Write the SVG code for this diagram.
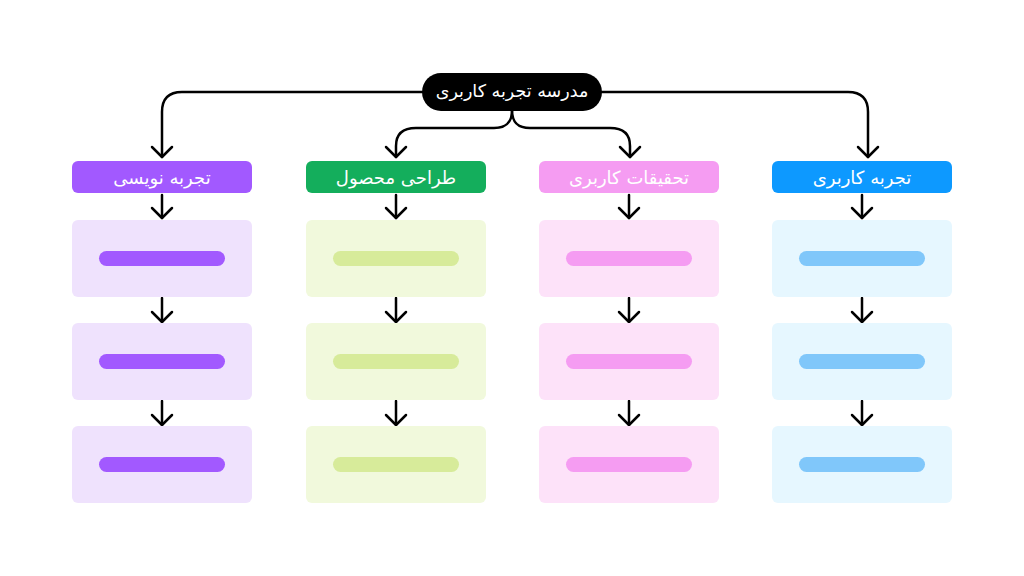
<svg xmlns="http://www.w3.org/2000/svg" width="1024" height="576" viewBox="0 0 1024 576">
<style>
.conn{fill:none;stroke:#000;stroke-width:2.5;stroke-linecap:round;stroke-linejoin:round}
.lbl{font-family:"DejaVu Sans","Noto Sans",sans-serif;fill:#fff;text-anchor:middle;dominant-baseline:central}
.hdr{font-size:18px}
.root{font-size:17.5px}
.pH{fill:#A259FF}.pB{fill:#EFE2FD}.pL{fill:#A259FF}
.gH{fill:#14AE5C}.gB{fill:#F1F9DC}.gL{fill:#D7EB9A}
.kH{fill:#F59CF2}.kB{fill:#FDE2F9}.kL{fill:#F59CF2}
.bH{fill:#0D99FF}.bB{fill:#E6F7FF}.bL{fill:#80C7FA}
</style>
<defs>
<marker id="ah" viewBox="-13 -13 16 26" markerWidth="16" markerHeight="26" refX="0" refY="0" orient="auto" markerUnits="userSpaceOnUse">
<path d="M-10,-10 L0,0 L-10,10" fill="none" stroke="#000" stroke-width="2.5" stroke-linecap="round" stroke-linejoin="round"/>
</marker>
</defs>
<rect width="1024" height="576" fill="#fff"/>
<g id="connectors">
<path class="conn" marker-end="url(#ah)" d="M422,92 L182,92 Q162,92 162,112 L162,157"/>
<path class="conn" marker-end="url(#ah)" d="M602,92 L848,92 Q868,92 868,112 L868,157"/>
<path class="conn" marker-end="url(#ah)" d="M512,110 C512,124 505,128 494,128 L416,128 Q396,128 396,146 L396,157"/>
<path class="conn" marker-end="url(#ah)" d="M512,110 C512,124 519,128 530,128 L610,128 Q630,128 630,146 L630,157"/>
<path class="conn" marker-end="url(#ah)" d="M162,195 V218"/>
<path class="conn" marker-end="url(#ah)" d="M162,298 V322"/>
<path class="conn" marker-end="url(#ah)" d="M162,401 V425"/>
<path class="conn" marker-end="url(#ah)" d="M396,195 V218"/>
<path class="conn" marker-end="url(#ah)" d="M396,298 V322"/>
<path class="conn" marker-end="url(#ah)" d="M396,401 V425"/>
<path class="conn" marker-end="url(#ah)" d="M629,195 V218"/>
<path class="conn" marker-end="url(#ah)" d="M629,298 V322"/>
<path class="conn" marker-end="url(#ah)" d="M629,401 V425"/>
<path class="conn" marker-end="url(#ah)" d="M862,195 V218"/>
<path class="conn" marker-end="url(#ah)" d="M862,298 V322"/>
<path class="conn" marker-end="url(#ah)" d="M862,401 V425"/>
</g>
<g id="root">
<rect x="422" y="73" width="180" height="38" rx="19" fill="#000"/>
<text class="lbl root" x="512" y="91" direction="rtl">مدرسه تجربه کاربری</text>
</g>
<g id="col-writing">
<rect class="pH" x="72" y="161" width="180" height="32" rx="6"/>
<text class="lbl hdr" x="162" y="177" direction="rtl">تجربه نویسی</text>
<rect class="pB" x="72" y="220" width="180" height="77" rx="6"/>
<rect class="pL" x="99" y="251" width="126" height="15" rx="7.5"/>
<rect class="pB" x="72" y="323" width="180" height="77" rx="6"/>
<rect class="pL" x="99" y="354" width="126" height="15" rx="7.5"/>
<rect class="pB" x="72" y="426" width="180" height="77" rx="6"/>
<rect class="pL" x="99" y="457" width="126" height="15" rx="7.5"/>
</g>
<g id="col-product">
<rect class="gH" x="306" y="161" width="180" height="32" rx="6"/>
<text class="lbl hdr" x="396" y="177" direction="rtl">طراحی محصول</text>
<rect class="gB" x="306" y="220" width="180" height="77" rx="6"/>
<rect class="gL" x="333" y="251" width="126" height="15" rx="7.5"/>
<rect class="gB" x="306" y="323" width="180" height="77" rx="6"/>
<rect class="gL" x="333" y="354" width="126" height="15" rx="7.5"/>
<rect class="gB" x="306" y="426" width="180" height="77" rx="6"/>
<rect class="gL" x="333" y="457" width="126" height="15" rx="7.5"/>
</g>
<g id="col-research">
<rect class="kH" x="539" y="161" width="180" height="32" rx="6"/>
<text class="lbl hdr" x="629" y="177" direction="rtl">تحقیقات کاربری</text>
<rect class="kB" x="539" y="220" width="180" height="77" rx="6"/>
<rect class="kL" x="566" y="251" width="126" height="15" rx="7.5"/>
<rect class="kB" x="539" y="323" width="180" height="77" rx="6"/>
<rect class="kL" x="566" y="354" width="126" height="15" rx="7.5"/>
<rect class="kB" x="539" y="426" width="180" height="77" rx="6"/>
<rect class="kL" x="566" y="457" width="126" height="15" rx="7.5"/>
</g>
<g id="col-ux">
<rect class="bH" x="772" y="161" width="180" height="32" rx="6"/>
<text class="lbl hdr" x="862" y="177" direction="rtl">تجربه کاربری</text>
<rect class="bB" x="772" y="220" width="180" height="77" rx="6"/>
<rect class="bL" x="799" y="251" width="126" height="15" rx="7.5"/>
<rect class="bB" x="772" y="323" width="180" height="77" rx="6"/>
<rect class="bL" x="799" y="354" width="126" height="15" rx="7.5"/>
<rect class="bB" x="772" y="426" width="180" height="77" rx="6"/>
<rect class="bL" x="799" y="457" width="126" height="15" rx="7.5"/>
</g>
</svg>
